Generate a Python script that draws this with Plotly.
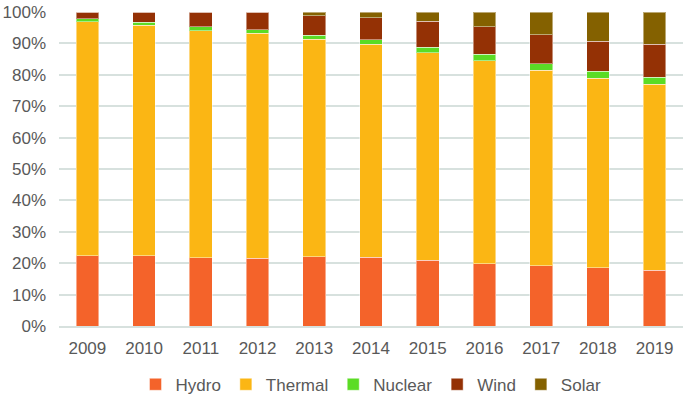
import plotly.graph_objects as go

years = ["2009", "2010", "2011", "2012", "2013", "2014", "2015", "2016", "2017", "2018", "2019"]
hydro = [22.4, 22.4, 21.8, 21.5, 22.1, 21.9, 21.0, 19.9, 19.2, 18.5, 17.7]
thermal = [74.5, 73.4, 72.2, 71.7, 69.3, 67.8, 66.0, 64.5, 62.3, 60.4, 59.3]
nuclear = [1.0, 1.0, 1.3, 1.1, 1.2, 1.5, 1.7, 2.1, 2.0, 2.2, 2.3]
wind = [2.1, 3.2, 4.7, 5.6, 6.2, 6.9, 8.4, 8.8, 9.2, 9.6, 10.4]
solar = [0.0, 0.0, 0.0, 0.1, 1.2, 1.9, 2.9, 4.7, 7.3, 9.3, 10.3]

series = [
    ("Hydro", hydro, "#F4632A"),
    ("Thermal", thermal, "#FBB614"),
    ("Nuclear", nuclear, "#5BDC25"),
    ("Wind", wind, "#943105"),
    ("Solar", solar, "#846100"),
]

fig = go.Figure()
for name, vals, color in series:
    fig.add_trace(go.Bar(
        x=years, y=vals, name=name,
        marker=dict(color=color, line=dict(color="rgba(255,255,255,0.45)", width=1)),
    ))

font_family = "Liberation Sans, Arial, sans-serif"
fig.update_layout(
    barmode="stack",
    bargap=0.6,
    width=685, height=405,
    margin=dict(l=59, r=2, t=12, b=72),
    paper_bgcolor="white", plot_bgcolor="white",
    font=dict(family=font_family, size=17, color="#595959"),
    yaxis=dict(
        range=[0, 100], dtick=10, ticksuffix="%",
        showgrid=True, gridcolor="#D7E1DE", gridwidth=1.5,
        zeroline=False, showline=False, ticks="",
        ticklabelstandoff=12, automargin=False,
        tickfont=dict(size=17, color="#595959"),
    ),
    xaxis=dict(
        showgrid=False, showline=True, linecolor="#D7E1DE", linewidth=1.5,
        ticks="", ticklabelstandoff=6, automargin=False,
        tickfont=dict(size=17, color="#595959"),
    ),
    legend=dict(
        orientation="h", x=0.5, xanchor="center", y=-0.187, yanchor="middle",
        font=dict(size=17, color="#595959"),
        itemwidth=30, traceorder="normal",
    ),
)

fig.write_html(
    "out.html",
    config={"displayModeBar": False},
    post_script="document.body.style.margin='0px';",
)
